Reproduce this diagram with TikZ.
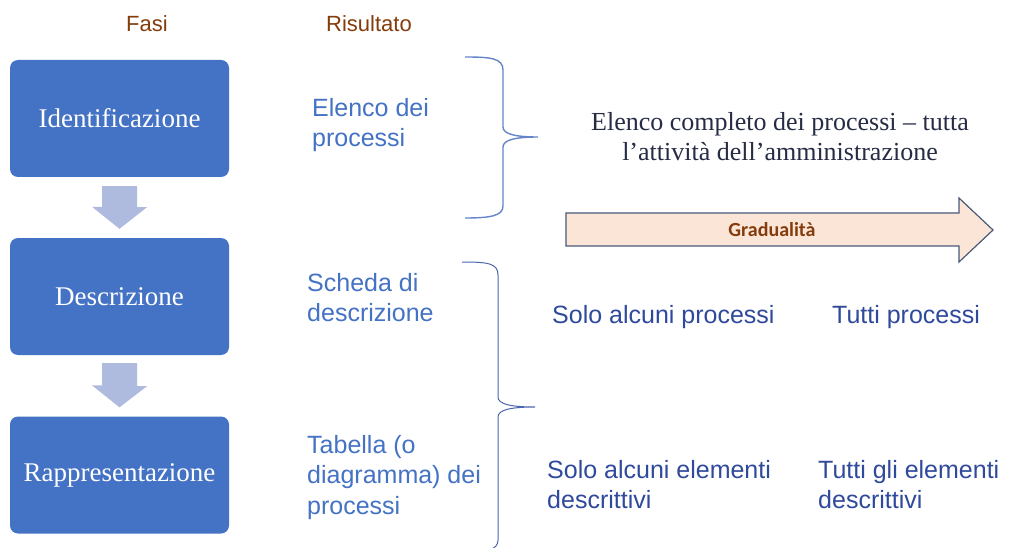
\documentclass[tikz,border=0pt]{standalone}
\usepackage{fontspec}
\newfontfamily\arialfont{Liberation Sans}
\newfontfamily\timesfont{Liberation Serif}
\newfontfamily\calibrifont{Carlito}

\definecolor{boxblue}{HTML}{4472C4}
\definecolor{arrowblue}{HTML}{AEBBDF}
\definecolor{headbrown}{HTML}{843C0C}
\definecolor{darkblue}{HTML}{2F4A9C}
\definecolor{navytext}{HTML}{262C44}
\definecolor{peach}{HTML}{FBE5D6}
\definecolor{slate}{HTML}{4A5A7A}
\definecolor{bracecol}{HTML}{6585C8}
\definecolor{bracedark}{HTML}{4A66AE}

\tikzset{
  fase/.style={fill=boxblue, rounded corners=8pt, minimum width=219pt,
    minimum height=117pt, inner sep=0pt, text=white,
    font=\timesfont\fontsize{27}{32}\selectfont},
  header/.style={anchor=north, inner sep=0pt, text=headbrown,
    font=\arialfont\fontsize{22}{26}\selectfont},
  risultato/.style={anchor=north west, inner sep=0pt, align=left,
    text=boxblue, font=\arialfont\fontsize{25}{30.5}\selectfont},
  livello/.style={anchor=north west, inner sep=0pt, align=left,
    text=darkblue, font=\arialfont\fontsize{25}{30.5}\selectfont},
  downarrow/.style={fill=arrowblue},
  gradarrow/.style={fill=peach, draw=slate, line width=1.2pt},
  bracepen/.style={draw=bracecol, line width=1.4pt}
}

\begin{document}
\begin{tikzpicture}[x=1pt,y=-1pt]
    \useasboundingbox (0,0) rectangle (1017,548);
    \fill[white] (0,0) rectangle (1017,548);

    % column titles
    \node[header] (fasi) at (147,15) {Fasi};
    \node[header] (ris) at (369,15) {Risultato};

    % the three phases
    \node[fase] (ident) at (119.5,118.5) {Identificazione};
    \node[fase] (descr) at (119.5,296.5) {Descrizione};
    \node[fase] (rappr) at (119.5,475) {Rappresentazione};

    \fill[downarrow] ([yshift=-9pt]ident.south) ++(-17.5,0) -- ++(35,0) -- ++(0,21)
        -- ++(10,0) -- ([yshift=9pt]descr.north) -- ++(-27.5,-22) -- ++(10,0) -- cycle;
    \fill[downarrow] ([yshift=-8pt]descr.south) ++(-17.5,0) -- ++(35,0) -- ++(0,23)
        -- ++(10,0) -- ([yshift=9pt]rappr.north) -- ++(-27.5,-22) -- ++(10,0) -- cycle;

    % results
    \node[risultato] (elenco) at (312,98) {Elenco dei\\processi};
    \node[risultato] (scheda) at (307,273) {Scheda di\\descrizione};
    \node[risultato] (tabella) at (307,435) {Tabella (o\\diagramma) dei\\processi};

    % braces
    \draw[bracepen] (465,57) .. controls (490,57) and (503,58) .. (503,70) -- (503,127)
        .. controls (503,134) and (515,137) .. (538,137)
        .. controls (515,137) and (503,140) .. (503,147) -- (503,206)
        .. controls (503,216) and (490,218) .. (465,218);
    \draw[bracepen, draw=bracedark, line width=1pt] (462,262)
        .. controls (487,262) and (498,263) .. (498,275) -- (498,397)
        .. controls (498,404) and (510,407) .. (535,407)
        .. controls (510,407) and (498,410) .. (498,417) -- (498,540)
        .. controls (498,550) and (487,552) .. (462,552);

    \node[anchor=north, inner sep=0pt, align=center, text=navytext,
        font=\timesfont\fontsize{26}{30}\selectfont] (completo) at (780,112)
        {Elenco completo dei processi – tutta\\l’attività dell’amministrazione};

    % gradualita
    \draw[gradarrow] (566,213) -- (959,213) -- (959,198) -- (993,230) -- (959,262)
        -- (959,246) -- (566,246) -- cycle;
    \node[text=headbrown, inner sep=0pt, font=\calibrifont\bfseries\fontsize{20}{24}\selectfont]
        (grad) at (772,230) {Gradualità};

    \node[livello] (alcuniproc) at (552,305) {Solo alcuni processi};
    \node[livello] (tuttiproc) at (832,305) {Tutti processi};
    \node[livello] (alcunielem) at (547,460) {Solo alcuni elementi\\descrittivi};
    \node[livello] (tuttielem) at (818,460) {Tutti gli elementi\\descrittivi};
\end{tikzpicture}
\end{document}
